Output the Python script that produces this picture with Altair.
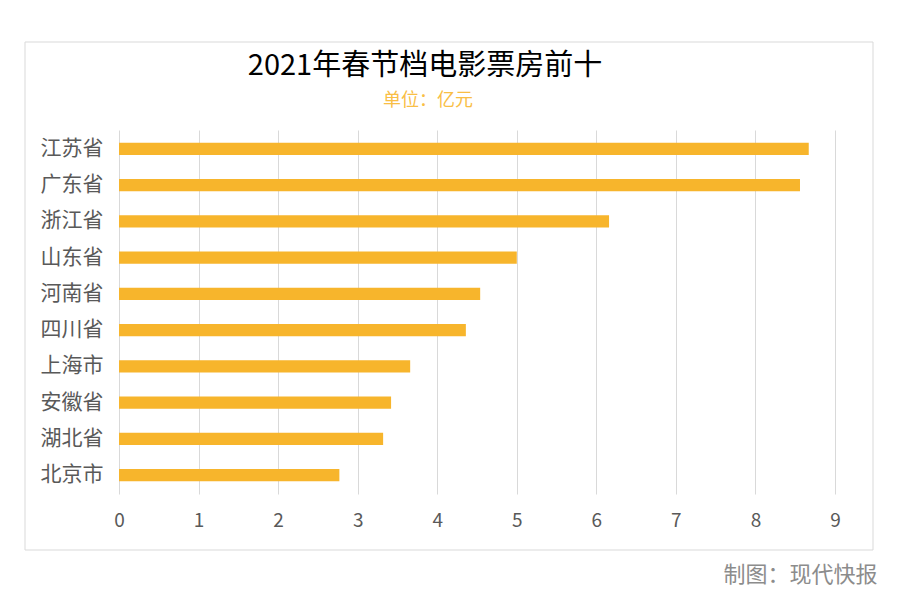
import altair as alt
import pandas as pd

provinces = ["江苏省", "广东省", "浙江省", "山东省", "河南省", "四川省", "上海市", "安徽省", "湖北省", "北京市"]
values = [8.67, 8.56, 6.16, 5.00, 4.54, 4.36, 3.66, 3.42, 3.32, 2.77]
x_ticks = [0, 1, 2, 3, 4, 5, 6, 7, 8, 9]

title_text = "2021年春节档电影票房前十"
subtitle_text = "单位：亿元"
footer_text = "制图：现代快报"

FONT = "Noto Sans CJK SC"
BAR = "#F7B52C"
GRAY = "#595959"

df = pd.DataFrame({"province": provinces, "value": values})

border = alt.Chart(pd.DataFrame({"k": [0]})).mark_rect(
    fill="white", fillOpacity=0, stroke="#d9d9d9", strokeWidth=1
).encode(
    x=alt.value(-94), x2=alt.value(754), y=alt.value(-88), y2=alt.value(420)
)

bars = alt.Chart(df).mark_bar(color=BAR).encode(
    x=alt.X(
        "value:Q",
        scale=alt.Scale(domain=[0, 9], nice=False),
        axis=alt.Axis(
            values=x_ticks, format="d", grid=True, gridColor="#d9d9d9", gridWidth=1,
            domain=False, ticks=False, labelFont=FONT, labelFontSize=19,
            labelColor=GRAY, labelPadding=17, labelFlush=False,
            title=footer_text, titleFont=FONT, titleFontSize=22, titleFontWeight="normal",
            titleColor="#8c8c8c", titleAlign="right", titleAnchor="end",
            titleX=758, titleY=80, titleBaseline="middle",
        ),
    ),
    y=alt.Y(
        "province:N",
        sort=provinces,
        scale=alt.Scale(paddingInner=0.66, paddingOuter=0.35),
        axis=alt.Axis(
            title=None, domain=False, ticks=False, grid=False, labelFont=FONT, labelFontSize=21,
            labelColor=GRAY, labelPadding=16,
        ),
    ),
)

title = alt.Chart(pd.DataFrame({"t": [title_text]})).mark_text(
    font=FONT, fontSize=29, color="#000000", align="center", baseline="middle"
).encode(x=alt.value(306), y=alt.value(-64), text="t:N")

subtitle = alt.Chart(pd.DataFrame({"t": [subtitle_text]})).mark_text(
    font=FONT, fontSize=18, color="#F9BE45", align="center", baseline="middle"
).encode(x=alt.value(309), y=alt.value(-29), text="t:N")

chart = alt.layer(border, bars, title, subtitle).properties(
    width=716, height=364,
    autosize=alt.AutoSizeParams(type="none"),
    padding={"left": 111, "top": 122, "right": 57, "bottom": 100},
    view=alt.ViewBackground(stroke="transparent", strokeWidth=0),
).configure_view(stroke="transparent", strokeWidth=0).configure(background="white")

chart.save("out.html", embed_options={"renderer": "svg", "actions": False})
